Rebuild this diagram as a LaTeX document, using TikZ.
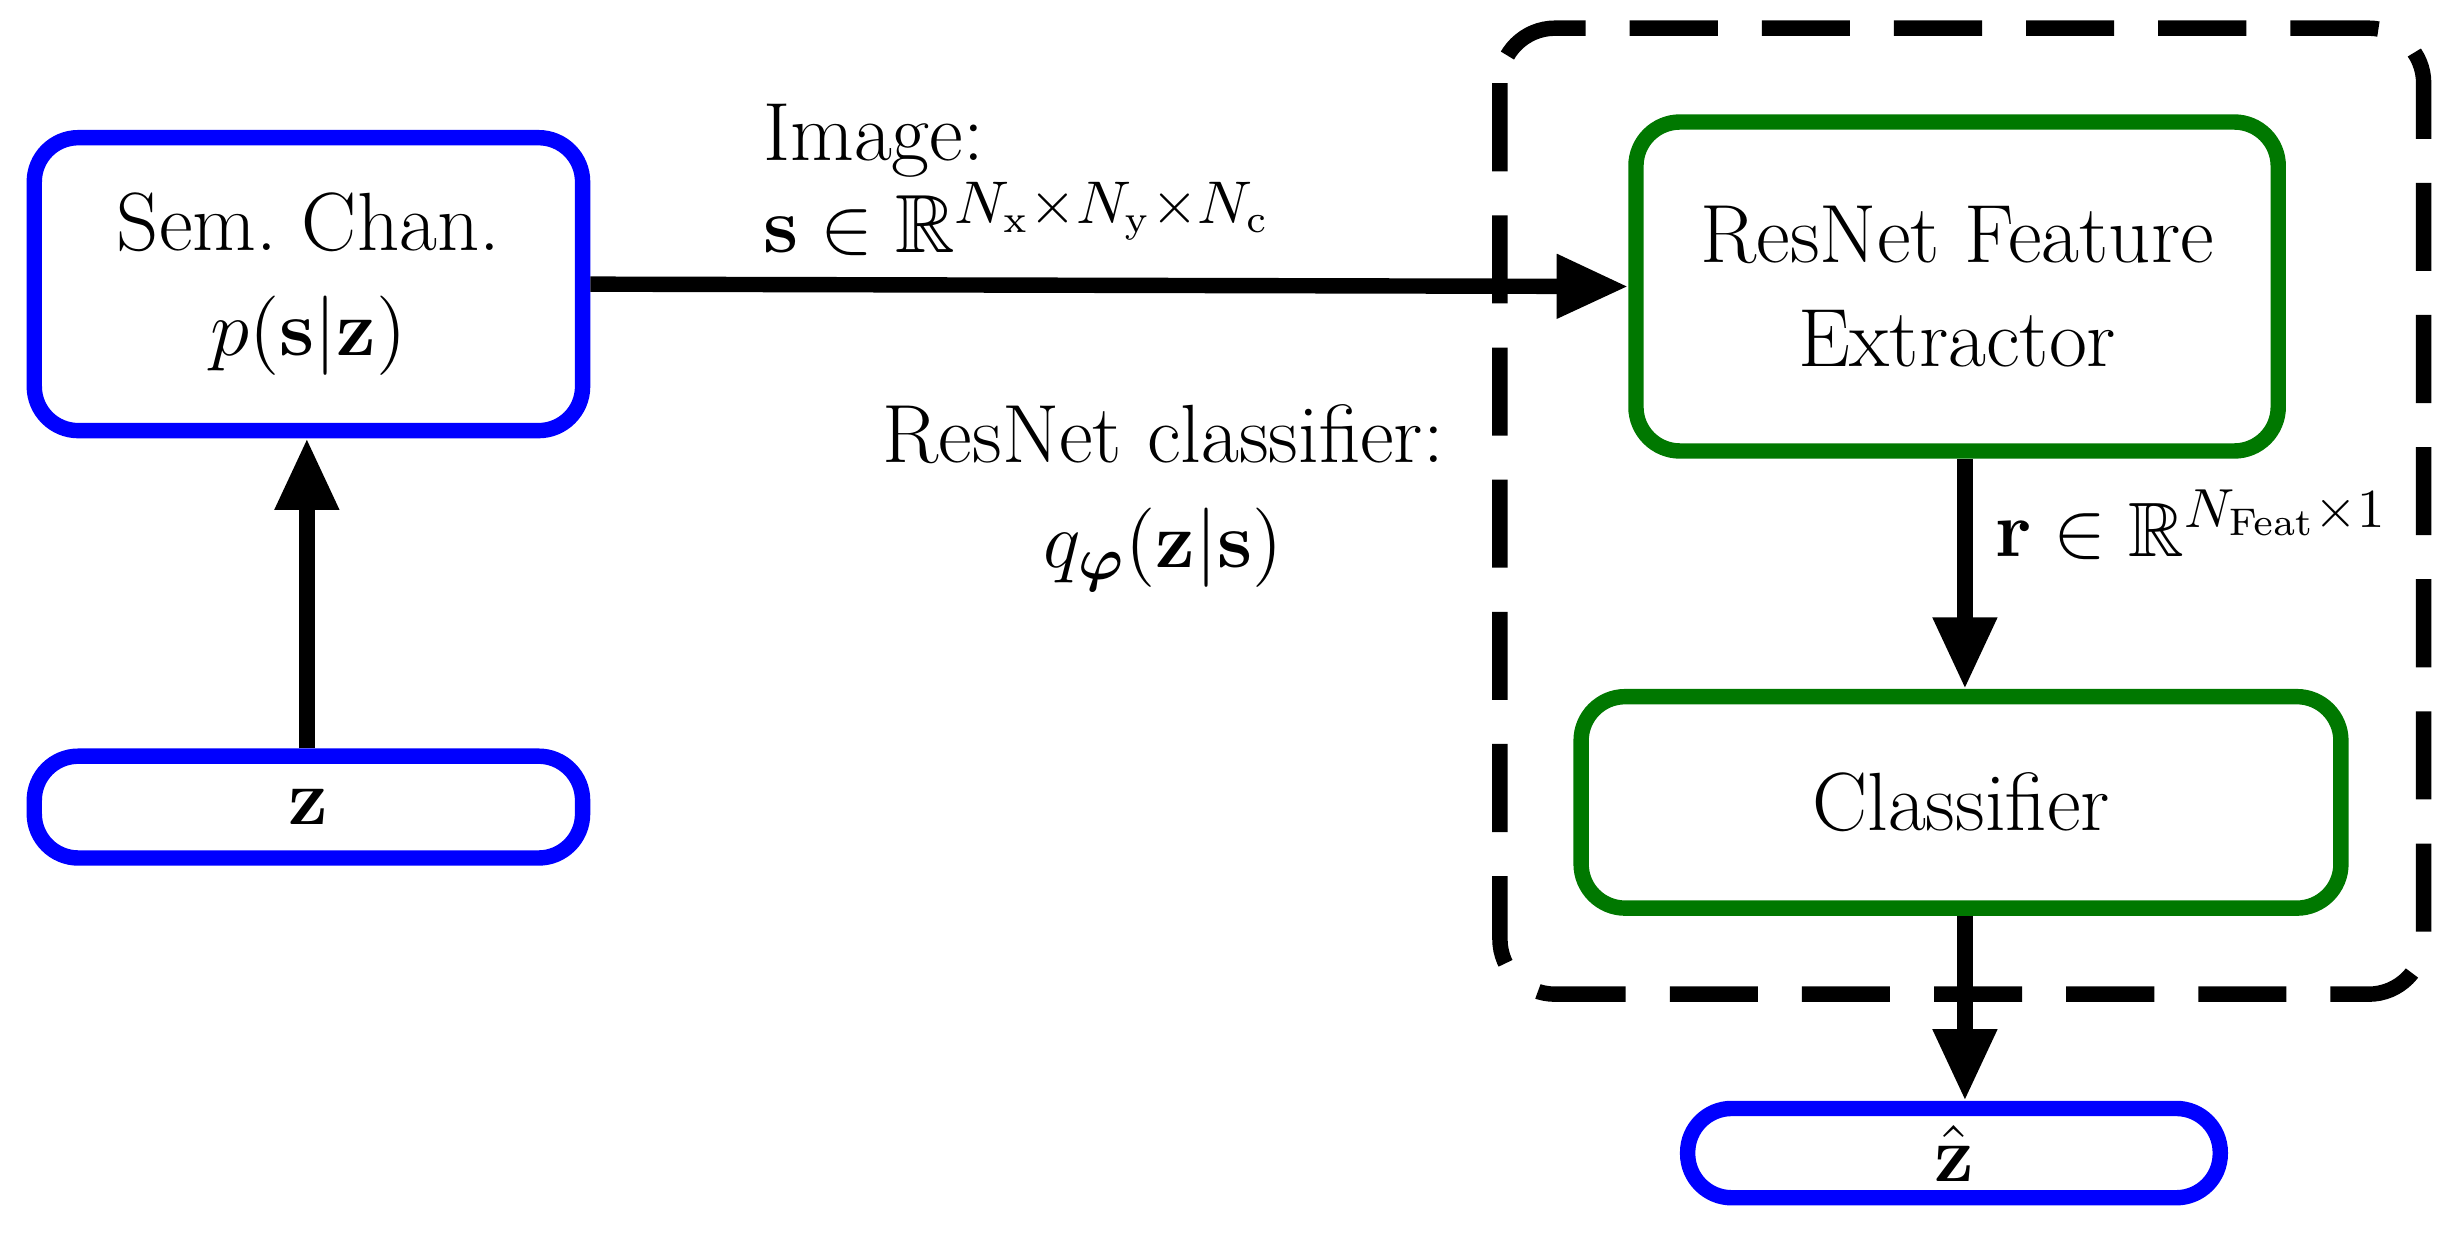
\documentclass[tikz,border=0pt]{standalone}
\usepackage{amsmath,amssymb,bm}
\usetikzlibrary{arrows.meta}
\begin{document}
\begin{tikzpicture}[x=0.01cm,y=-0.01cm,
  box/.style={draw,line width=2.8pt,rounded corners=8pt,inner sep=0pt,align=center,font=\fontsize{15}{19}\selectfont},
  blu/.style={box,draw={rgb,255:red,0;green,0;blue,255}},
  grn/.style={box,draw={rgb,255:red,0;green,120;blue,0}},
  arr/.style={line width=2.8pt,-{Triangle[length=13pt,width=11pt]}},
  txt/.style={font=\fontsize{15}{19}\selectfont}]
\useasboundingbox (0,0) rectangle (1568,801);
\draw[line width=2.8pt,dash pattern=on 16pt off 8pt,rounded corners=10pt] (958,18) rectangle (1548,635);
\node[blu,minimum width=3.5cm,minimum height=1.87cm] (sem) at (197,181.5) {Sem.\ Chan.\\$p(\mathbf{s}|\mathbf{z})$};
\node[blu,minimum width=3.5cm,minimum height=0.65cm] (z) at (197,515.5) {$\mathbf{z}$};
\node[grn,minimum width=4.1cm,minimum height=2.1cm] (res) at (1250,183) {ResNet Feature\\Extractor};
\node[grn,minimum width=4.85cm,minimum height=1.35cm] (cls) at (1252.5,512.5) {Classifier};
\node[blu,minimum width=3.4cm,minimum height=0.57cm] (zh) at (1248,736.5) {$\hat{\mathbf{z}}$};
\draw[arr] (z.north-|196,0) -- (sem.south-|196,0);
\draw[arr] (sem.east) -- (res.west);
\draw[arr] (res.south-|1255,0) -- (cls.north-|1255,0);
\draw[arr] (cls.south-|1255,0) -- (zh.north-|1255,0);
\node[txt,anchor=west] (img) at (475,90) {Image:};
\node[txt,anchor=west] (s) at (475,140) {$\mathbf{s}\in\mathbb{R}^{N_\mathrm{x}\times N_\mathrm{y}\times N_\mathrm{c}}$};
\node[txt,align=center] (rc) at (743,318) {ResNet classifier:\\$q_{\bm{\varphi}}(\mathbf{z}|\mathbf{s})$};
\node[font=\fontsize{14}{17}\selectfont,anchor=west] (r) at (1262,335) {$\mathbf{r}\in\mathbb{R}^{N_\mathrm{Feat}\times 1}$};
\end{tikzpicture}
\end{document}
